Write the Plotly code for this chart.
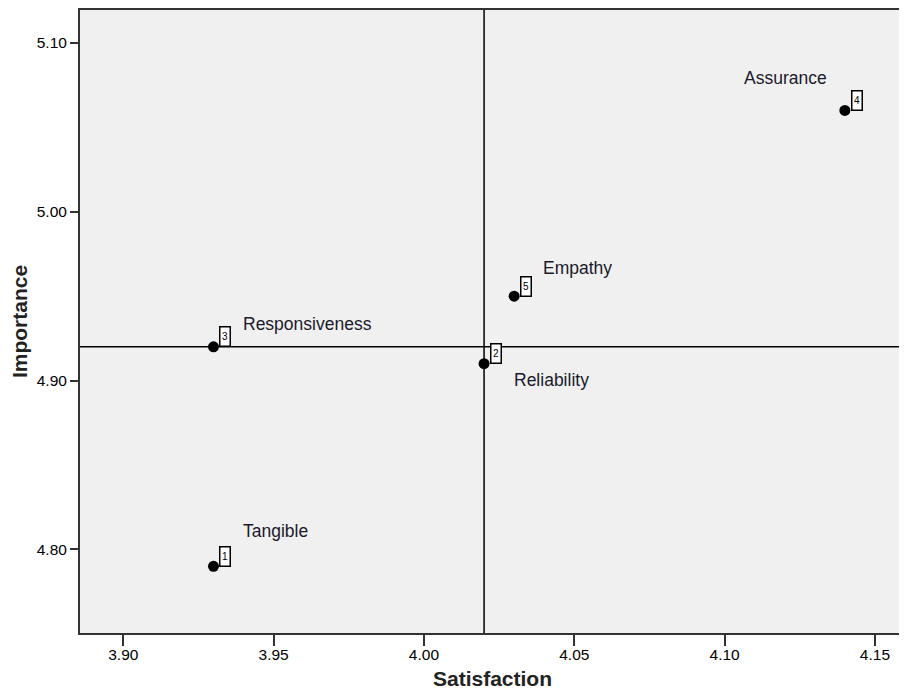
import plotly.graph_objects as go

dimensions = ["Tangible", "Reliability", "Responsiveness", "Assurance", "Empathy"]
ids = ["1", "2", "3", "4", "5"]
satisfaction = [3.93, 4.02, 3.93, 4.14, 4.03]
importance = [4.79, 4.91, 4.92, 5.06, 4.95]
mean_satisfaction = 4.02
mean_importance = 4.92
x_ticks = [3.90, 3.95, 4.00, 4.05, 4.10, 4.15]
y_ticks = [4.80, 4.90, 5.00, 5.10]

# label offsets in pixels (dx, dy) relative to the point
label_offsets = [(62, 35), (67, -16), (94, 23), (-59, 32), (63, 28)]

FONT = "Liberation Sans, Arial, sans-serif"

fig = go.Figure()
fig.add_trace(go.Scatter(
    x=satisfaction, y=importance, mode="markers",
    marker=dict(color="black", size=11),
    hoverinfo="skip", showlegend=False,
))

fig.add_vline(x=mean_satisfaction, line=dict(color="black", width=1.5))
fig.add_hline(y=mean_importance, line=dict(color="black", width=1.5))

for name, i, xv, yv, (dx, dy) in zip(dimensions, ids, satisfaction, importance, label_offsets):
    fig.add_annotation(
        x=xv, y=yv, xref="x", yref="y", text=i, showarrow=False,
        xshift=12, yshift=10, width=9, height=18,
        font=dict(family=FONT, size=10, color="black"),
        bgcolor="white", bordercolor="black", borderwidth=1.5, borderpad=0,
    )
    fig.add_annotation(
        x=xv, y=yv, xref="x", yref="y", text=name, showarrow=False,
        xshift=dx, yshift=dy,
        font=dict(family=FONT, size=17.5, color="#1a1a2a"),
    )

axis_common = dict(
    showgrid=False, zeroline=False, showline=True, linecolor="#333333",
    linewidth=2, mirror=True, ticks="outside", tickwidth=2,
    tickcolor="#333333", tickfont=dict(family=FONT, size=15.5, color="black"),
)

fig.update_layout(
    width=899, height=683,
    margin=dict(l=72, r=0, t=0, b=58),
    paper_bgcolor="white", plot_bgcolor="#F0F0F0",
    xaxis=dict(range=[3.8856, 4.1600], tickvals=x_ticks,
               ticktext=[f"{v:.2f}" for v in x_ticks], ticklen=11,
               ticklabelstandoff=-5,
               title=dict(text="<b>Satisfaction</b>", font=dict(family=FONT, size=21, color="#222"), standoff=10),
               **axis_common),
    yaxis=dict(range=[4.7505, 5.1195], tickvals=y_ticks,
               ticktext=[f"{v:.2f}" for v in y_ticks], ticklen=8,
               title=dict(text="<b>Importance</b>", font=dict(family=FONT, size=21, color="#222"), standoff=8),
               **axis_common),
)

fig.write_html("out.html")
